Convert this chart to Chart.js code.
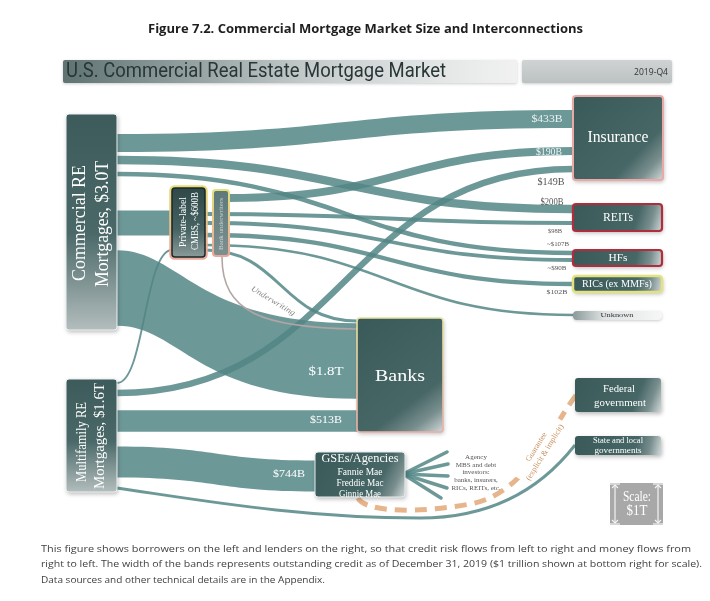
<!DOCTYPE html>
<html><head><meta charset="utf-8">
<script src="https://cdn.jsdelivr.net/npm/chart.js@4"></script>
<style>html,body{margin:0;padding:0;background:#fff}#wrap{width:710px;height:601px;position:relative}</style>
</head><body><div id="wrap"><canvas id="c" width="710" height="601"></canvas></div>
<script>
// ---------- DATA ----------
const figureTitle = 'Figure 7.2. Commercial Mortgage Market Size and Interconnections';
const headerTitle = 'U.S. Commercial Real Estate Mortgage Market';
const period = '2019-Q4';
const nodeNames = ['CRE','MF','CMBS','UW','Insurance','REITs','HFs','RICs','Unknown','Banks','GSEs','Federal','State'];
const nodeLabels = [
  ['Commercial RE','Mortgages, $3.0T'],
  ['Multifamily RE','Mortgages, $1.6T'],
  ['Private-label','CMBS, ~$600B'],
  ['Bank underwriters'],
  ['Insurance'],
  ['REITs'],
  ['HFs'],
  ['RICs (ex MMFs)'],
  ['Unknown'],
  ['Banks'],
  ['GSEs/Agencies','Fannie Mae','Freddie Mac','Ginnie Mae'],
  ['Federal','government'],
  ['State and local','governments']
];
const flowSources = ['CRE','CRE','CRE','CRE','UW','CMBS','CMBS','CMBS','CMBS','CMBS','CRE','MF','MF','MF','MF','MF'];
const flowTargets = ['Insurance','REITs','HFs','CMBS','Insurance','REITs','HFs','RICs','Unknown','Banks','Banks','Insurance','CMBS','Banks','GSEs','State'];
const flowValues  = [433,200,107,600,190,98,90,102,60,70,1800,149,45,513,744,70];   // $B
const flowLabels  = ['$433B','$200B','~$107B','','$190B','$98B','~$90B','$102B','','','$1.8T','$149B','','$513B','$744B',''];
const scaleValue = 1000; // $1T
const scaleLabel = ['Scale:','$1T'];
const agencyText = ['Agency','MBS and debt','investors:','banks, insurers,','RICs, REITs, etc.'];
const guaranteeText = ['Guarantee','(explicit & implicit)'];
const underwritingText = 'Underwriting';
const captionLines = [
  'This figure shows borrowers on the left and lenders on the right, so that credit risk flows from left to right and money flows from',
  'right to left. The width of the bands represents outstanding credit as of December 31, 2019 ($1 trillion shown at bottom right for scale).',
  'Data sources and other technical details are in the Appendix.'
];

// ---------- LAYOUT (layout units = scale units) ----------
const UNITS_PER_B = 0.042;
const nodeBoxes = {
  CRE:[66,114,117,330], MF:[66,379,117,492], CMBS:[172,188,205,257], UW:[213,190,229,256],
  Insurance:[573,96,663,180], REITs:[573,204,662,231], HFs:[573,250,662,266], RICs:[573,276,662,292],
  Unknown:[573,311,662,320], Banks:[357,318,443,432], GSEs:[315,452,405,497],
  Federal:[575,378,661,412], State:[575,436,661,455]
};
const flowAnchors = [
  [117,143,573,119],[117,160,573,209],[117,174,573,253],[117,223,172,223],
  [229,198,573,151],[205,214,573,223],[205,223,573,260],[205,235,573,284],
  [205,245,573,315],[205,250,357,321],[117,288,357,361],[117,393,573,169],
  [117,383,172,250],[117,421,357,421],[117,462,315,476],[117,488,575,445]
];
const flowCtrlX = {10: [180, 195]};
const flowCurves = {15:[[200,500,300,518,420,518],[490,518,540,490,575,445]]};
const flowLabelPos = [
  [547,119,'#eef3f3',11,31],[552,202,'#555',10,23],[558,244,'#555',7,22],null,
  [549,152,'#eef3f3',10.5,26],[555,231,'#555',7,14],[557,268,'#555',7,19],[557,292,'#555',7,21],
  null,null,[326,372,'#ffffff',13,35],[551,182,'#555',11,27],null,[326,420,'#ffffff',11,32],[289,474,'#ffffff',11,32],null
];
const BAND = 'rgba(84,134,134,0.85)';
const SERIF = "'Liberation Serif','DejaVu Serif',serif";
const SANS = "'Open Sans','Lato',sans-serif";

const diagram = {
  id: 'diagram',
  afterDraw(chart) {
    const ctx = chart.ctx, xs = chart.scales.x, ys = chart.scales.y;
    const X = v => xs.getPixelForValue(v), Y = v => ys.getPixelForValue(v);
    const T = v => Math.abs(Y(v * UNITS_PER_B) - Y(0));
    function txt(s, x, y, o) {
      ctx.save();
      ctx.translate(X(x), Y(y));
      if (o.rot) ctx.rotate(o.rot * Math.PI / 180);
      ctx.font = o.font; ctx.fillStyle = o.color || '#fff';
      ctx.textAlign = o.align || 'center'; ctx.textBaseline = 'middle';
      if (o.w) { const m = ctx.measureText(s).width; ctx.scale(o.w / m, 1); }
      ctx.fillText(s, 0, 0);
      ctx.restore();
    }
    function rr(x0, y0, x1, y1, r) {
      ctx.beginPath();
      ctx.roundRect(X(x0), Y(y0), X(x1) - X(x0), Y(y1) - Y(y0), r);
    }
    function grad(b, kind) {
      const [x0,y0,x1,y1] = b;
      let g;
      if (kind === 'vert') {
        g = ctx.createLinearGradient(X(x0), Y(y0), X(x0), Y(y1));
        g.addColorStop(0, '#3d5b5b'); g.addColorStop(0.55, '#4a6868'); g.addColorStop(1, '#b3bdbd');
      } else {
        g = ctx.createLinearGradient(X(x0), Y(y0), X(x1), Y(y1));
        g.addColorStop(0, '#3a5959'); g.addColorStop(0.7, '#476666'); g.addColorStop(0.86, '#7a8f8f'); g.addColorStop(1, '#d2d9d9');
      }
      return g;
    }
    function node(name, kind, border, bw, r) {
      const b = nodeBoxes[name];
      ctx.save();
      ctx.shadowColor = 'rgba(0,0,0,0.28)'; ctx.shadowBlur = 4; ctx.shadowOffsetX = 1; ctx.shadowOffsetY = 2;
      rr(b[0], b[1], b[2], b[3], r == null ? 3 : r);
      ctx.fillStyle = grad(b, kind); ctx.fill();
      ctx.restore();
      if (border) {
        ctx.save(); rr(b[0], b[1], b[2], b[3], r == null ? 3 : r);
        ctx.strokeStyle = border; ctx.lineWidth = bw; ctx.stroke(); ctx.restore();
      }
    }

    // ---- title ----
    txt(figureTitle, 365.5, 29, {font: "bold 13px " + SANS, color: '#1e1e1e', w: 435});

    // ---- header bars ----
    ctx.save();
    let g = ctx.createLinearGradient(X(63), 0, X(517), 0);
    g.addColorStop(0, '#5f7373'); g.addColorStop(0.25, '#8e9c9c'); g.addColorStop(0.55, '#c6cccc');
    g.addColorStop(0.85, '#e6e8e8'); g.addColorStop(1, '#f1f1f1');
    ctx.shadowColor = 'rgba(0,0,0,0.2)'; ctx.shadowBlur = 3; ctx.shadowOffsetY = 1;
    rr(63, 60, 517, 83, 2); ctx.fillStyle = g; ctx.fill();
    g = ctx.createLinearGradient(0, Y(60), 0, Y(83));
    g.addColorStop(0, '#cfd3d3'); g.addColorStop(1, '#bcc1c1');
    rr(522, 60, 672, 83, 2); ctx.fillStyle = g; ctx.fill();
    ctx.restore();
    txt(headerTitle, 66, 72, {font: "20px 'Liberation Sans Narrow','Roboto',sans-serif", color: '#2a3636', align: 'left', w: 380});
    txt(period, 668, 72, {font: "9px " + SANS, color: '#333', align: 'right', w: 34});

    // ---- flows ----
    flowValues.forEach((v, i) => {
      const a = flowAnchors[i];
      const w = T(v);
      const c = flowCurves[i];
      ctx.save();
      if (!c && w >= 10) {
        // Sankey band with constant vertical thickness
        const xm = (a[0] + a[2]) / 2, h = v * UNITS_PER_B / 2;
        const [c1, c2] = flowCtrlX[i] || [xm, xm];
        ctx.beginPath();
        ctx.moveTo(X(a[0]), Y(a[1] - h));
        ctx.bezierCurveTo(X(c1), Y(a[1] - h), X(c2), Y(a[3] - h), X(a[2]), Y(a[3] - h));
        ctx.lineTo(X(a[2]), Y(a[3] + h));
        ctx.bezierCurveTo(X(c2), Y(a[3] + h), X(c1), Y(a[1] + h), X(a[0]), Y(a[1] + h));
        ctx.closePath();
        ctx.fillStyle = BAND; ctx.fill();
      } else {
        ctx.strokeStyle = BAND; ctx.lineWidth = w; ctx.lineCap = 'butt';
        ctx.beginPath(); ctx.moveTo(X(a[0]), Y(a[1]));
        if (c) c.forEach(s => ctx.bezierCurveTo(X(s[0]), Y(s[1]), X(s[2]), Y(s[3]), X(s[4]), Y(s[5])));
        else { const xm = (a[0] + a[2]) / 2; ctx.bezierCurveTo(X(xm), Y(a[1]), X(xm), Y(a[3]), X(a[2]), Y(a[3])); }
        ctx.stroke();
      }
      ctx.restore();
    });

    // underwriting line
    ctx.save();
    ctx.strokeStyle = '#b4a5a5'; ctx.lineWidth = 1.6;
    ctx.beginPath(); ctx.moveTo(X(222), Y(257)); ctx.bezierCurveTo(X(222), Y(312), X(262), Y(328), X(357), Y(329)); ctx.stroke();
    ctx.restore();
    txt(underwritingText, 273, 301, {font: "italic 8px " + SERIF, color: '#888', rot: 31, w: 50});

    // GSE fan
    ctx.save(); ctx.strokeStyle = BAND; ctx.lineWidth = 3.5; ctx.lineCap = 'round';
    [[447,452],[448,464],[448,476],[447,488],[441,498]].forEach(e => {
      ctx.beginPath(); ctx.moveTo(X(403), Y(474)); ctx.lineTo(X(e[0]), Y(e[1])); ctx.stroke();
    });
    ctx.restore();
    agencyText.forEach((s, i) => txt(s, 476, 457 + i * 7.8, {font: "7px " + SERIF, color: '#555'}));

    // guarantee dashed curve, interrupted where its label sits
    const gc = [541, 450], ga = -58 * Math.PI / 180;
    ctx.save();
    ctx.beginPath();
    ctx.rect(0, 0, chart.width, chart.height);
    {
      const ux = Math.cos(ga), uy = Math.sin(ga), vx = -uy, vy = ux;
      const hl = 36, hh = 11, cx = X(gc[0]), cy = Y(gc[1]);
      ctx.moveTo(cx - ux*hl - vx*hh, cy - uy*hl - vy*hh);
      ctx.lineTo(cx + ux*hl - vx*hh, cy + uy*hl - vy*hh);
      ctx.lineTo(cx + ux*hl + vx*hh, cy + uy*hl + vy*hh);
      ctx.lineTo(cx - ux*hl + vx*hh, cy - uy*hl + vy*hh);
      ctx.closePath();
    }
    ctx.clip('evenodd');
    ctx.strokeStyle = '#e7b58b'; ctx.lineWidth = 5; ctx.setLineDash([12, 8]);
    ctx.beginPath(); ctx.moveTo(X(358), Y(498));
    ctx.bezierCurveTo(X(366), Y(513), X(420), Y(513), X(470), Y(504));
    ctx.bezierCurveTo(X(528), Y(494), X(552), Y(425), X(577), Y(394));
    ctx.stroke(); ctx.restore();
    txt(guaranteeText[0], gc[0] - 4.5, gc[1] - 3, {font: "8px " + SERIF, color: '#c98f5d', rot: -58});
    txt(guaranteeText[1], gc[0] + 4, gc[1] + 2.5, {font: "8px " + SERIF, color: '#c98f5d', rot: -58});

    // ---- nodes ----
    node('CRE', 'vert', '#eef2f2', 1);
    node('MF', 'vert', '#eef2f2', 1);
    // CMBS with glow
    ctx.save();
    let b = nodeBoxes.CMBS;
    g = ctx.createLinearGradient(0, Y(b[1]), 0, Y(b[3]));
    g.addColorStop(0, '#e6dc7a'); g.addColorStop(1, '#eaa898');
    rr(b[0]-1.5, b[1]-1.5, b[2]+1.5, b[3]+1.5, 4); ctx.strokeStyle = g; ctx.lineWidth = 2.5; ctx.stroke();
    ctx.restore();
    ctx.save();
    rr(b[0], b[1], b[2], b[3], 3);
    g = ctx.createLinearGradient(0, Y(b[1]), 0, Y(b[3]));
    g.addColorStop(0, '#2f4848'); g.addColorStop(0.6, '#466262'); g.addColorStop(1, '#8a9a9a');
    ctx.fillStyle = g; ctx.fill(); ctx.strokeStyle = '#1d2626'; ctx.lineWidth = 1.5; ctx.stroke();
    ctx.restore();
    // bank underwriters
    ctx.save();
    b = nodeBoxes.UW;
    rr(b[0], b[1], b[2], b[3], 3);
    g = ctx.createLinearGradient(0, Y(b[1]), 0, Y(b[3]));
    g.addColorStop(0, '#5c7979'); g.addColorStop(1, '#7d9090');
    ctx.fillStyle = g; ctx.fill();
    g = ctx.createLinearGradient(0, Y(b[1]), 0, Y(b[3]));
    g.addColorStop(0, '#e4e07a'); g.addColorStop(1, '#eca59a');
    ctx.strokeStyle = g; ctx.lineWidth = 2; ctx.stroke();
    ctx.restore();

    node('Insurance', 'diag', '#eaa9a6', 2);
    node('REITs', 'diag', '#b02d3c', 2.2);
    node('HFs', 'diag', '#b02d3c', 2.2);
    node('RICs', 'diag', '#e3e37e', 2.5);
    // banks
    ctx.save();
    b = nodeBoxes.Banks;
    ctx.shadowColor = 'rgba(0,0,0,0.25)'; ctx.shadowBlur = 4; ctx.shadowOffsetX = 1; ctx.shadowOffsetY = 2;
    rr(b[0], b[1], b[2], b[3], 3); ctx.fillStyle = grad(b, 'diag'); ctx.fill();
    ctx.restore();
    ctx.save();
    g = ctx.createLinearGradient(0, Y(b[1]), 0, Y(b[3]));
    g.addColorStop(0, '#e8e4a0'); g.addColorStop(1, '#eab0a6');
    rr(b[0], b[1], b[2], b[3], 3); ctx.strokeStyle = g; ctx.lineWidth = 1.6; ctx.stroke();
    ctx.restore();
    node('GSEs', 'diag', '#e8eeee', 1);
    node('Federal', 'diag', null, 0);
    node('State', 'diag', null, 0);
    // unknown
    ctx.save();
    b = nodeBoxes.Unknown;
    g = ctx.createLinearGradient(X(b[0]), 0, X(b[2]), 0);
    g.addColorStop(0, '#8c9999'); g.addColorStop(0.35, '#dfe3e3'); g.addColorStop(1, '#f6f7f7');
    ctx.shadowColor = 'rgba(0,0,0,0.2)'; ctx.shadowBlur = 3; ctx.shadowOffsetY = 1;
    rr(b[0], b[1], b[2], b[3], 4); ctx.fillStyle = g; ctx.fill();
    ctx.restore();

    // scale box
    const sb = [610, 483, 663, 483 + scaleValue * UNITS_PER_B];
    ctx.save();
    ctx.fillStyle = '#a8a8a8'; ctx.fillRect(X(sb[0]), Y(sb[1]), X(sb[2]) - X(sb[0]), Y(sb[3]) - Y(sb[1]));
    ctx.strokeStyle = '#f4f4f4'; ctx.lineWidth = 1.2;
    [615, 658].forEach(ax => {
      ctx.beginPath(); ctx.moveTo(X(ax), Y(sb[1] + 2)); ctx.lineTo(X(ax), Y(sb[3] - 2)); ctx.stroke();
      ctx.beginPath(); ctx.moveTo(X(ax - 3), Y(sb[1] + 5)); ctx.lineTo(X(ax), Y(sb[1] + 2)); ctx.lineTo(X(ax + 3), Y(sb[1] + 5)); ctx.stroke();
      ctx.beginPath(); ctx.moveTo(X(ax - 3), Y(sb[3] - 5)); ctx.lineTo(X(ax), Y(sb[3] - 2)); ctx.lineTo(X(ax + 3), Y(sb[3] - 5)); ctx.stroke();
      ctx.beginPath(); ctx.moveTo(X(ax - 5), Y(sb[1] + 1)); ctx.lineTo(X(ax + 5), Y(sb[1] + 1)); ctx.stroke();
      ctx.beginPath(); ctx.moveTo(X(ax - 5), Y(sb[3] - 1)); ctx.lineTo(X(ax + 5), Y(sb[3] - 1)); ctx.stroke();
    });
    ctx.restore();
    txt(scaleLabel[0], 637, 497, {font: "14px " + SERIF, color: '#fff', w: 28});
    txt(scaleLabel[1], 637, 511, {font: "14px " + SERIF, color: '#fff', w: 21});

    // ---- node labels ----
    const nl = {};
    nodeNames.forEach((n, i) => nl[n] = nodeLabels[i]);
    txt(nl.CRE[0], 80, 223, {font: "19px " + SERIF, rot: -90, w: 116});
    txt(nl.CRE[1], 103, 224, {font: "19px " + SERIF, rot: -90, w: 126});
    txt(nl.MF[0], 82, 442, {font: "15px " + SERIF, rot: -90, w: 80});
    txt(nl.MF[1], 100, 436, {font: "15px " + SERIF, rot: -90, w: 106});
    txt(nl.CMBS[0], 183, 222, {font: "10px " + SERIF, rot: -90, w: 50});
    txt(nl.CMBS[1], 195, 221, {font: "10px " + SERIF, rot: -90, w: 58});
    txt(nl.UW[0], 221, 224, {font: "7px " + SERIF, rot: -90, w: 52, color: '#c9d3d3'});
    txt(nl.Insurance[0], 618, 138, {font: "16px " + SERIF, w: 61});
    txt(nl.REITs[0], 618, 218, {font: "12px " + SERIF, w: 30});
    txt(nl.HFs[0], 618, 258, {font: "11px " + SERIF, w: 19});
    txt(nl.RICs[0], 617, 284, {font: "11px " + SERIF, w: 70});
    txt(nl.Unknown[0], 617, 315.5, {font: "7px " + SERIF, color: '#333', w: 33});
    txt(nl.Banks[0], 400, 377, {font: "17px " + SERIF, w: 50});
    txt(nl.GSEs[0], 360, 459, {font: "13px " + SERIF, w: 77});
    txt(nl.GSEs[1], 360, 472, {font: "10px " + SERIF, w: 45});
    txt(nl.GSEs[2], 360, 483, {font: "10px " + SERIF, w: 47});
    txt(nl.GSEs[3], 360, 494, {font: "10px " + SERIF, w: 42});
    txt(nl.Federal[0], 619, 389, {font: "11px " + SERIF, w: 32});
    txt(nl.Federal[1], 620, 403, {font: "11px " + SERIF, w: 52});
    txt(nl.State[0], 618, 441, {font: "8px " + SERIF, w: 50});
    txt(nl.State[1], 618, 451, {font: "8px " + SERIF, w: 47});

    // ---- flow labels ----
    flowLabels.forEach((s, i) => {
      const p = flowLabelPos[i];
      if (!s || !p) return;
      txt(s, p[0], p[1], {font: p[3] + "px " + SERIF, color: p[2], w: p[4]});
    });

    // ---- caption ----
    const capW = [650, 661, 284];
    captionLines.forEach((s, i) => txt(s, 41, 549 + i * 15.5, {font: "9.5px " + SANS, color: '#404040', align: 'left', w: capW[i]}));
  }
};

new Chart(document.getElementById('c'), {
  type: 'scatter',
  data: { datasets: [] },
  options: {
    responsive: false, animation: false, devicePixelRatio: 1,
    layout: { padding: 0 },
    plugins: { legend: { display: false }, tooltip: { enabled: false }, title: { display: false } },
    scales: {
      x: { type: 'linear', min: 0, max: 710, display: false },
      y: { type: 'linear', min: 0, max: 601, reverse: true, display: false }
    }
  },
  plugins: [diagram]
});
</script></body></html>
